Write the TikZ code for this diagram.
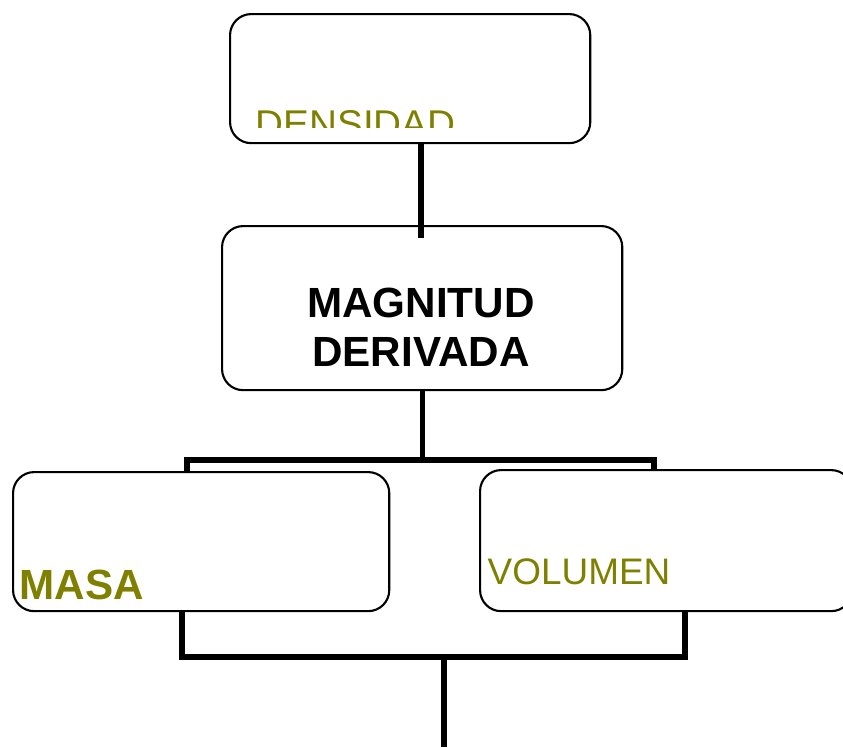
\documentclass[tikz,border=0pt]{standalone}
\usepackage{fontspec}
\setmainfont{Liberation Sans}
\definecolor{olivetexto}{RGB}{128,128,0}
\tikzset{
	caja/.style={draw, rounded corners=6pt, line width=.6pt, inner sep=0pt, anchor=north west},
	rotulo/.style={inner sep=0pt, anchor=base west, text=olivetexto},
	enlace/.style={line width=1.5pt}
}
\begin{document}
\begin{tikzpicture}[x=.01cm,y=-.01cm]
	\useasboundingbox (0,0) rectangle (843,747);
	
	\node[caja, minimum width=3.6cm, minimum height=1.29cm] (densidad) at (229,13) {};
	\node[caja, minimum width=4cm, minimum height=1.64cm] (magnitud) at (221,225) {};
	\node[caja, minimum width=3.76cm, minimum height=1.39cm] (masa) at (12,471) {};
	\node[caja, minimum width=3.72cm, minimum height=1.41cm] (volumen) at (479,469) {};
	
	\begin{scope}
	\clip (229,13) rectangle (589,127);
	\node[rotulo, font=\fontsize{11}{13}\selectfont] (tdensidad) at (255,137) {DENSIDAD};
	\end{scope}
	\node[inner sep=0pt, align=center, font=\bfseries\fontsize{12}{14}\selectfont] (tmagnitud) at (421,327) {MAGNITUD\\DERIVADA};
	\node[rotulo, font=\bfseries\fontsize{12}{14}\selectfont] (tmasa) at (19,599) {MASA};
	\node[rotulo, font=\fontsize{10.5}{12}\selectfont] (tvolumen) at (487,584) {VOLUMEN};
	
	\coordinate (entrada) at (421,238);
	\coordinate (ramaI) at (187,460);
	\coordinate (ramaD) at (654,460);
	\coordinate (baseI) at (182,657);
	\coordinate (baseD) at (685,657);
	\coordinate (salida) at (444,747);
	
	\draw[enlace] (entrada |- densidad.south) -- (entrada);
	\draw[enlace] (magnitud.south) -- (magnitud.south |- ramaI);
	\draw[enlace] (ramaI |- masa.north) -- (ramaI) -- (ramaD) -- (ramaD |- volumen.north);
	\draw[enlace] (baseI |- masa.south) -- (baseI) -- (baseD) -- (baseD |- volumen.south);
	\draw[enlace] (salida |- baseI) -- (salida);
\end{tikzpicture}
\end{document}
